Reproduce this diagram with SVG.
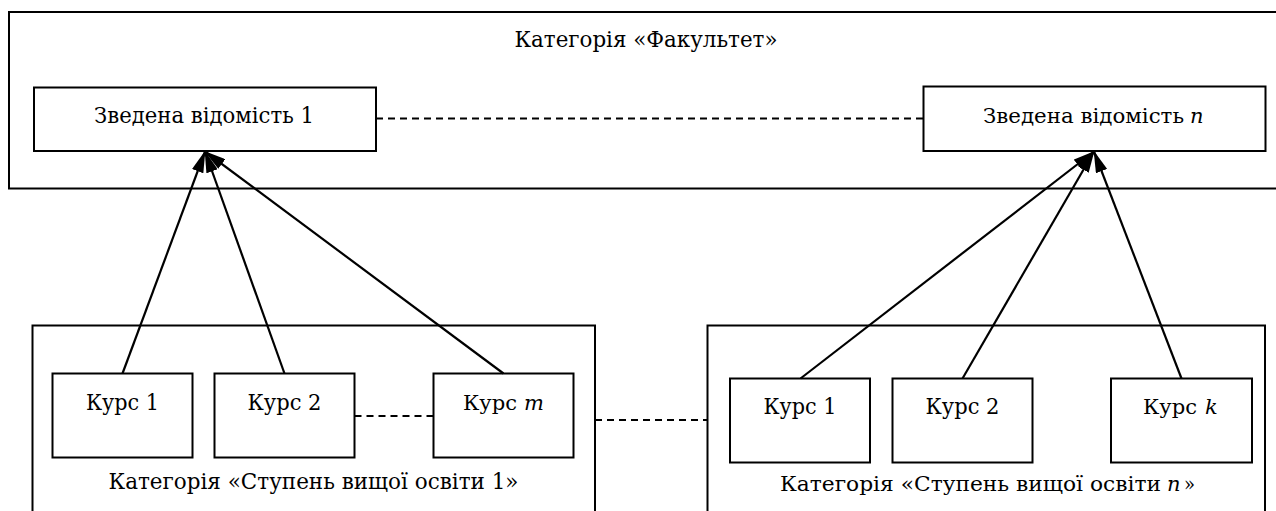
<svg xmlns="http://www.w3.org/2000/svg" width="1276" height="511" viewBox="0 0 1276 511">
<style>
.box{fill:#fff;stroke:#000;stroke-width:2}
.cat{fill:none;stroke:#000;stroke-width:2}
.t{font-family:'DejaVu Serif','Liberation Serif',serif;font-size:22px;fill:#000;text-anchor:middle}
.s{font-family:'DejaVu Serif','Liberation Serif',serif;font-size:20px;fill:#000;text-anchor:start}
.i{font-family:'DejaVu Serif','Liberation Serif',serif;font-size:21px;font-style:italic;fill:#000;text-anchor:start}
.dash{stroke:#000;stroke-width:2;stroke-dasharray:7 5;fill:none}
.arr{stroke:#000;stroke-width:2.2;fill:none;marker-end:url(#ah)}
</style>
<defs>
<marker id="ah" viewBox="0 0 22 12" refX="21" refY="6" markerWidth="22" markerHeight="12" markerUnits="userSpaceOnUse" orient="auto">
<path d="M0,0 L22,6 L0,12 z" fill="#000"/>
</marker>
</defs>
<rect width="1276" height="511" fill="#fff"/>
<g id="cat-faculty">
<rect class="cat" x="9" y="12" width="1290" height="176.5"/>
<text class="t" x="646" y="47" textLength="263" lengthAdjust="spacingAndGlyphs">Категорія «Факультет»</text>
</g>
<g id="cat-level1">
<rect class="cat" x="32.5" y="325.5" width="562.5" height="200"/>
<text class="t" x="313.5" y="489" textLength="410" lengthAdjust="spacingAndGlyphs">Категорія «Ступень вищої освіти 1»</text>
</g>
<g id="cat-leveln">
<rect class="cat" x="707.5" y="325.5" width="557.5" height="200"/>
<text class="s" x="780" y="491" textLength="381" lengthAdjust="spacingAndGlyphs">Категорія «Ступень вищої освіти</text>
<text class="i" x="1167" y="491">n</text>
<text class="s" x="1184" y="491" textLength="11" lengthAdjust="spacingAndGlyphs">»</text>
</g>
<g id="summary1">
<rect class="box" x="34" y="87.5" width="342" height="63.5"/>
<text class="t" x="204" y="123" textLength="220" lengthAdjust="spacingAndGlyphs">Зведена відомість 1</text>
</g>
<g id="summaryn">
<rect class="box" x="923.5" y="86.5" width="342" height="64.5"/>
<text class="s" x="983" y="123" textLength="201" lengthAdjust="spacingAndGlyphs">Зведена відомість</text>
<text class="i" x="1190" y="123">n</text>
</g>
<g id="l-course1">
<rect class="box" x="52.5" y="373.5" width="140" height="84"/>
<text class="t" x="122.5" y="410" textLength="73" lengthAdjust="spacingAndGlyphs">Курс 1</text>
</g>
<g id="l-course2">
<rect class="box" x="214.5" y="373.5" width="140" height="84"/>
<text class="t" x="284.5" y="410" textLength="74" lengthAdjust="spacingAndGlyphs">Курс 2</text>
</g>
<g id="l-coursem">
<rect class="box" x="433.5" y="373.5" width="140" height="84"/>
<text class="s" x="463" y="410" textLength="54" lengthAdjust="spacingAndGlyphs">Курс</text>
<text class="i" x="524" y="410">m</text>
</g>
<g id="r-course1">
<rect class="box" x="730" y="378.5" width="140" height="84"/>
<text class="t" x="800" y="414" textLength="73" lengthAdjust="spacingAndGlyphs">Курс 1</text>
</g>
<g id="r-course2">
<rect class="box" x="892.5" y="378.5" width="140" height="84"/>
<text class="t" x="962.5" y="414" textLength="74" lengthAdjust="spacingAndGlyphs">Курс 2</text>
</g>
<g id="r-coursek">
<rect class="box" x="1111" y="378.5" width="141" height="84"/>
<text class="s" x="1143" y="414" textLength="54" lengthAdjust="spacingAndGlyphs">Курс</text>
<text class="i" x="1205" y="414">k</text>
</g>
<g id="connectors">
<line class="dash" x1="376" y1="118.5" x2="923.5" y2="118.5"/>
<line class="dash" x1="354.5" y1="416" x2="433.5" y2="416"/>
<line class="dash" x1="595" y1="420" x2="707.5" y2="420"/>
<line class="arr" x1="122.5" y1="373.5" x2="205" y2="151.5"/>
<line class="arr" x1="284.5" y1="373.5" x2="205" y2="151.5"/>
<line class="arr" x1="503.5" y1="373.5" x2="205" y2="151.5"/>
<line class="arr" x1="800.5" y1="378.5" x2="1094" y2="151.5"/>
<line class="arr" x1="962.5" y1="378.5" x2="1094" y2="151.5"/>
<line class="arr" x1="1181.5" y1="378.5" x2="1094" y2="151.5"/>
</g>
</svg>
